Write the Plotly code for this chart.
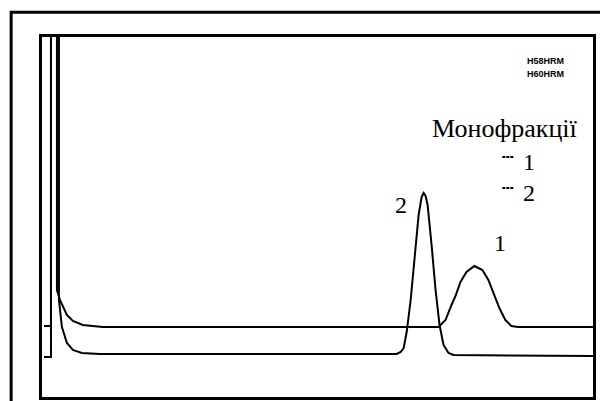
import plotly.graph_objects as go

# Chromatogram traces (time in arbitrary units, signal in arbitrary units)
t1 = [2, 9, 9, 15, 15, 18, 25, 31, 41, 61, 398, 405, 411, 415, 420, 426, 434, 442, 448, 453, 459, 465, 471, 478, 555]
s1 = [71, 71, 497, 497, 107, 97, 82, 76, 72, 70, 70, 77, 92, 101, 115, 125, 131, 127, 117, 104, 89, 77, 71, 70, 70]

t2 = [2, 9, 9, 17, 17, 20, 25, 31, 40, 58, 356, 360, 363, 366, 370, 374, 378, 381, 383, 385, 387, 391, 395, 399, 403, 408, 413, 555]
s2 = [40, 40, 497, 497, 97, 70, 54, 47, 44, 43, 43, 45, 49, 65, 97, 142, 182, 200, 204, 201, 192, 152, 107, 72, 52, 44, 42, 41]

peak_labels = ["1", "2"]
peak_label_x = [460, 360]
peak_label_y = [154, 192]

sample_names = ["H58HRM", "H60HRM"]
legend_title = "Монофракції"
legend_items = ["1", "2"]

fig = go.Figure()
fig.add_trace(go.Scatter(x=t1, y=s1, mode="lines", line=dict(color="black", width=2), name="1"))
fig.add_trace(go.Scatter(x=t2, y=s2, mode="lines", line=dict(color="black", width=2), name="2"))

serif = "Liberation Serif, Times New Roman, serif"
for lab, x, y in zip(peak_labels, peak_label_x, peak_label_y):
    fig.add_annotation(x=x, y=y, text=lab, showarrow=False, font=dict(family=serif, size=24, color="black"))

for i, nm in enumerate(sample_names):
    fig.add_annotation(x=505, y=336 - 13 * i, text="<b>" + nm + "</b>", showarrow=False,
                       font=dict(family="Liberation Sans, Arial, sans-serif", size=9, color="black"))

fig.add_annotation(x=465, y=269, text=legend_title, showarrow=False, font=dict(family=serif, size=26, color="black"))
for i, it in enumerate(legend_items):
    yy = 235 - 31 * i
    fig.add_annotation(x=489, y=yy, text=it, showarrow=False, font=dict(family=serif, size=24, color="black"))
    fig.add_shape(type="line", x0=462, x1=473, y0=yy + 5, y1=yy + 5, xref="x", yref="y",
                  line=dict(color="black", width=2, dash="3px,1px"))

# outer frame
fig.add_shape(type="rect", xref="paper", yref="paper", x0=-0.056, x1=1.03, y0=-0.05, y1=1.069,
              line=dict(color="black", width=3), layer="above")

fig.update_xaxes(range=[0, 553], showline=True, mirror=True, linecolor="black", linewidth=3,
                 showgrid=False, zeroline=False, showticklabels=False, ticks="")
fig.update_yaxes(range=[0, 360], showline=True, mirror=True, linecolor="black", linewidth=3,
                 showgrid=False, zeroline=False, showticklabels=False, ticks="")
fig.update_layout(width=600, height=401, margin=dict(l=42, r=5, t=37, b=4),
                  paper_bgcolor="white", plot_bgcolor="white", showlegend=False)
fig.write_html("out.html", config={"displayModeBar": False},
               post_script="document.body.style.margin='0';document.body.style.overflow='hidden';")
